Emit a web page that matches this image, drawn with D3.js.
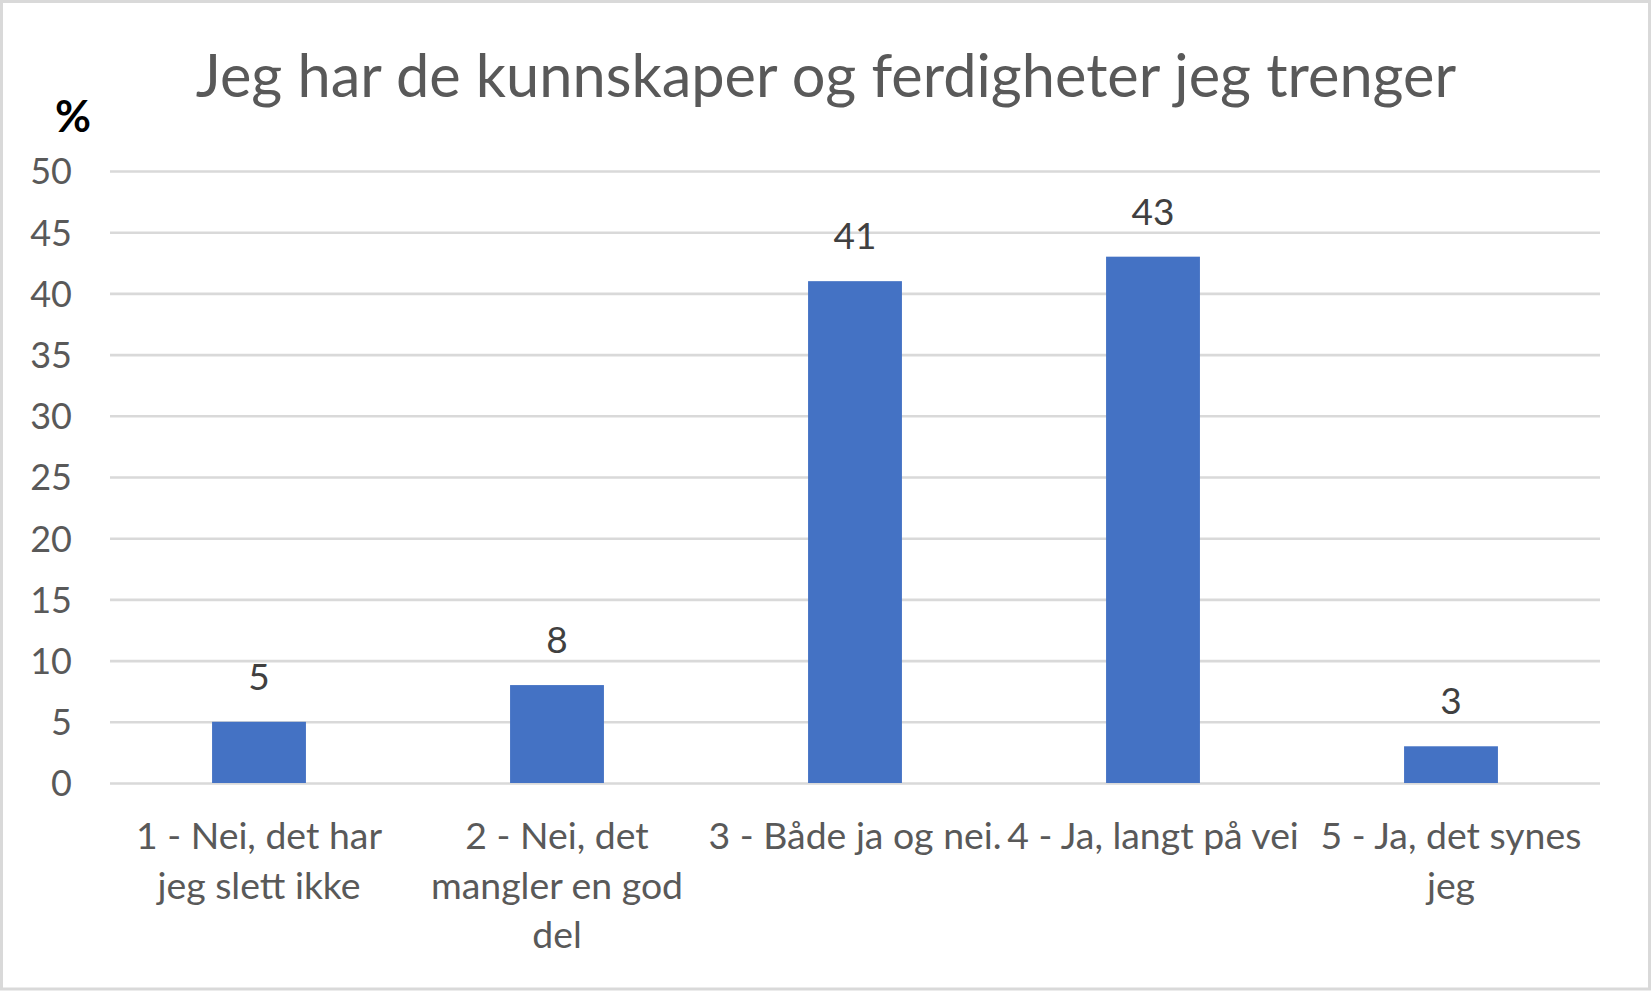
<!DOCTYPE html>
<html>
<head>
<meta charset="utf-8">
<script src="https://cdn.jsdelivr.net/npm/d3@7"></script>
<style>
  html, body { margin: 0; padding: 0; background: #fff; }
  svg { display: block; }
  text { font-family: Lato, "Open Sans", sans-serif; }
</style>
</head>
<body>
<svg id="chart" width="1652" height="992"></svg>
<script>
const categories = ["1", "2", "3", "4", "5"];
const categoryLabels = [
  ["1 - Nei, det har", "jeg slett ikke"],
  ["2 - Nei, det", "mangler en god", "del"],
  ["3 - Både ja og nei."],
  ["4 - Ja, langt på vei"],
  ["5 - Ja, det synes", "jeg"]
];
const values = [5, 8, 41, 43, 3];
const yTicks = [0, 5, 10, 15, 20, 25, 30, 35, 40, 45, 50];
const titleText = "Jeg har de kunnskaper og ferdigheter jeg trenger";
const unitLabel = "%";

const W = 1652, H = 992;
const plot = { left: 110, right: 1600, top: 171, bottom: 783 };

const svg = d3.select("#chart");

svg.append("rect")
  .attr("x", 1.5).attr("y", 1.5)
  .attr("width", W - 4).attr("height", H - 4.5)
  .attr("fill", "#fff")
  .attr("stroke", "#d9d9d9")
  .attr("stroke-width", 3);

const x = d3.scaleBand()
  .domain(categories)
  .range([plot.left, plot.right])
  .paddingInner(0.685)
  .paddingOuter(0.3425);

const y = d3.scaleLinear()
  .domain([0, 50])
  .range([plot.bottom, plot.top]);

// gridlines + tick labels
const yAxis = d3.axisLeft(y)
  .tickValues(yTicks)
  .tickSize(-(plot.right - plot.left))
  .tickPadding(38)
  .tickFormat(d3.format("d"));

const gy = svg.append("g")
  .attr("transform", `translate(${plot.left},0)`)
  .call(yAxis);
gy.select(".domain").remove();
gy.selectAll(".tick line")
  .attr("stroke", "#d9d9d9")
  .attr("stroke-width", 2.6);
gy.selectAll(".tick text")
  .attr("fill", "#595959")
  .style("font-size", "36px")
  .style("font-family", "Lato, sans-serif")
  .attr("dy", "0.36em");

// bars
svg.append("g").selectAll("rect")
  .data(values)
  .join("rect")
  .attr("x", (d, i) => x(categories[i]))
  .attr("y", d => y(d))
  .attr("width", x.bandwidth())
  .attr("height", d => y(0) - y(d))
  .attr("fill", "#4472c4");

// data labels
svg.append("g").selectAll("text")
  .data(values)
  .join("text")
  .attr("x", (d, i) => x(categories[i]) + x.bandwidth() / 2)
  .attr("y", d => y(d) - 32)
  .attr("text-anchor", "middle")
  .attr("fill", "#404040")
  .style("font-size", "37px")
  .text(d => d);

// category labels
const gx = svg.append("g");
categoryLabels.forEach((lines, i) => {
  const cx = x(categories[i]) + x.bandwidth() / 2;
  lines.forEach((ln, j) => {
    gx.append("text")
      .attr("x", cx)
      .attr("y", 849 + j * 49.5)
      .attr("text-anchor", "middle")
      .attr("fill", "#595959")
      .style("font-size", "37.4px")
      .text(ln);
  });
});

// title
svg.append("text")
  .attr("x", 826)
  .attr("y", 97)
  .attr("text-anchor", "middle")
  .attr("fill", "#595959")
  .style("font-size", "59.5px")
  .text(titleText);

// unit label
svg.append("text")
  .attr("x", 73)
  .attr("y", 132)
  .attr("text-anchor", "middle")
  .attr("fill", "#000")
  .style("font-size", "44px")
  .style("font-weight", "bold")
  .text(unitLabel);
</script>
</body>
</html>
